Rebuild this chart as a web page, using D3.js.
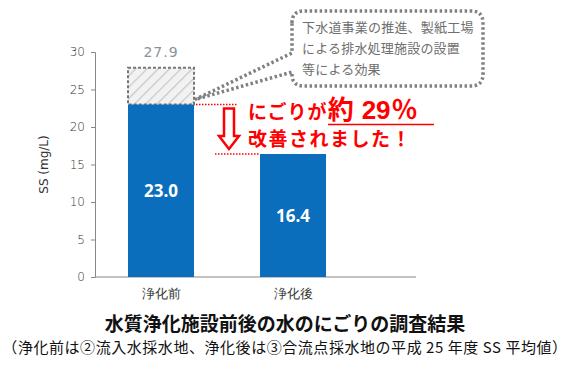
<!DOCTYPE html>
<html>
<head>
<meta charset="utf-8">
<script src="https://cdn.jsdelivr.net/npm/d3@7"></script>
<style>
  body { margin: 0; background: #fff; }
  svg { display: block; font-family: "Noto Sans CJK JP", "Noto Sans", sans-serif; }
</style>
</head>
<body>
<svg id="chart" width="571" height="366"></svg>
<script>
// data
var categories = ['浄化前', '浄化後'];
var values = [23.0, 16.4];
var before = 27.9;               // 対策前の推定値 (hatched part)
var yTicks = [0, 5, 10, 15, 20, 25, 30];
var calloutLines = ['下水道事業の推進、製紙工場', 'による排水処理施設の設置', '等による効果'];
var title = '水質浄化施設前後の水のにごりの調査結果';
var subtitle = '（浄化前は②流入水採水地、浄化後は③合流点採水地の平成 25 年度 SS 平均値）';

var svg = d3.select('#chart');
var margin = {left: 95, right: 212, top: 52, bottom: 89};
var width = 571 - margin.left - margin.right,
    height = 366 - margin.top - margin.bottom;

var blue = '#0a6ebd';
var red = '#ff0000';

var x = d3.scaleBand().domain(categories).range([0, width]).paddingInner(0.5).paddingOuter(0.25);
var y = d3.scaleLinear().domain([0, 30]).range([height, 0]);

var defs = svg.append('defs');
var pat = defs.append('pattern')
    .attr('id', 'hatch')
    .attr('patternUnits', 'userSpaceOnUse')
    .attr('width', 8).attr('height', 8)
    .attr('patternTransform', 'rotate(45)');
pat.append('rect').attr('width', 8).attr('height', 8).attr('fill', '#f2f2f2');
pat.append('line').attr('x1', 0).attr('y1', 0).attr('x2', 0).attr('y2', 8)
    .attr('stroke', '#c8c8c8').attr('stroke-width', 2.5);

var g = svg.append('g').attr('transform', 'translate(' + margin.left + ',' + margin.top + ')');

// y axis
var yAxis = g.append('g')
    .call(d3.axisLeft(y).tickValues(yTicks).tickSize(4).tickPadding(6));
yAxis.select('.domain').attr('stroke', '#888');
yAxis.selectAll('.tick line').attr('stroke', '#888');
yAxis.selectAll('.tick text').attr('fill', '#333').style('font-size', '12px')
    .style('font-family', '"DejaVu Sans", sans-serif').attr('font-weight', 300);

// x axis
var xAxis = g.append('g')
    .attr('transform', 'translate(0,' + height + ')')
    .call(d3.axisBottom(x).tickSize(0).tickPadding(12));
xAxis.select('.domain').attr('stroke', '#888').attr('d', 'M0,0H' + (width + 57));
xAxis.selectAll('.tick text').attr('fill', '#333').style('font-size', '13px');

// y axis title
svg.append('text')
    .attr('transform', 'translate(44,' + (margin.top + y(15)) + ') rotate(-90)')
    .attr('text-anchor', 'middle')
    .attr('dominant-baseline', 'middle')
    .style('font-size', '12px').attr('fill', '#333')
    .style('font-family', '"DejaVu Sans", sans-serif')
    .text('SS (mg/L)');

// hatched portion of the first bar
var bw = x.bandwidth();
g.append('rect')
    .attr('x', x(categories[0])).attr('y', y(before))
    .attr('width', bw).attr('height', y(values[0]) - y(before))
    .attr('fill', 'url(#hatch)')
    .attr('stroke', '#777').attr('stroke-width', 2).attr('stroke-dasharray', '3,2');

// bars
g.selectAll('.bar')
    .data(values)
    .enter().append('rect')
    .attr('class', 'bar')
    .attr('x', function(d, i) { return x(categories[i]); })
    .attr('y', function(d) { return y(d); })
    .attr('width', bw)
    .attr('height', function(d) { return height - y(d); })
    .attr('fill', blue);

// value labels inside bars
g.selectAll('.val')
    .data(values)
    .enter().append('text')
    .attr('x', function(d, i) { return x(categories[i]) + bw / 2; })
    .attr('y', function(d) { return y(d / 2) + 6; })
    .attr('text-anchor', 'middle')
    .attr('fill', '#fff')
    .attr('font-weight', 'bold')
    .style('font-size', '17px')
    .style('font-family', '"Open Sans", sans-serif')
    .text(function(d) { return d.toFixed(1); });

g.append('text')
    .attr('x', x(categories[0]) + bw / 2).attr('y', y(before) - 11)
    .attr('text-anchor', 'middle')
    .attr('fill', '#8a929c')
    .style('font-size', '14px')
    .style('font-family', '"DejaVu Sans", sans-serif')
    .attr('letter-spacing', '1px')
    .text(before.toFixed(1));

// callout bubble
var bx = x(categories[0]) + bw + margin.left;
var tipY = margin.top + y(values[0]) - 5;
var callout = svg.append('g');
var L = 292, R = 483, T = 11, B = 86, r = 12;
var bubble = 'M' + L + ',' + (T + r) +
    'Q' + L + ',' + T + ' ' + (L + r) + ',' + T +
    'H' + (R - r) + 'Q' + R + ',' + T + ' ' + R + ',' + (T + r) +
    'V' + (B - r) + 'Q' + R + ',' + B + ' ' + (R - r) + ',' + B +
    'H' + (L + r) + 'Q' + L + ',' + B + ' ' + L + ',' + (B - r) +
    'V72L' + (bx + 1) + ',' + tipY + 'L' + L + ',53Z';
callout.append('path')
    .attr('d', bubble)
    .attr('fill', '#fff')
    .attr('stroke', '#808080').attr('stroke-width', 3.5)
    .attr('stroke-dasharray', '2.5,2.5');
callout.selectAll('text')
    .data(calloutLines)
    .enter().append('text')
    .attr('x', 302)
    .attr('y', function(d, i) { return 32 + i * 21; })
    .attr('fill', '#6e6e6e')
    .style('font-size', '13px')
    .attr('letter-spacing', '0.2px')
    .text(function(d) { return d; });

// red dotted guide lines
var y1 = margin.top + y(values[0]), y2 = margin.top + y(values[1]);
svg.append('line').attr('x1', bx + 2).attr('x2', 237).attr('y1', y1).attr('y2', y1)
    .attr('stroke', red).attr('stroke-width', 1.5).attr('stroke-dasharray', '1.5,1.5');
svg.append('line').attr('x1', 215).attr('x2', margin.left + x(categories[1]) - 1).attr('y1', y2).attr('y2', y2)
    .attr('stroke', red).attr('stroke-width', 1.5).attr('stroke-dasharray', '1.5,1.5');

// hollow red arrow
var ax = 229, aTop = y1 + 4, aBot = y2 - 5, head = 13;
svg.append('path')
    .attr('d', 'M' + (ax - 5) + ',' + aTop + 'H' + (ax + 5) + 'V' + (aBot - head) +
      'H' + (ax + 10) + 'L' + ax + ',' + aBot + 'L' + (ax - 10) + ',' + (aBot - head) +
      'H' + (ax - 5) + 'Z')
    .attr('fill', '#fff').attr('stroke', red).attr('stroke-width', 2.5)
    .attr('stroke-linejoin', 'miter');

// red message
var msg = svg.append('text').attr('x', 248).attr('y', 119)
    .attr('fill', red).attr('font-weight', 'bold');
msg.append('tspan').style('font-size', '19px').attr('letter-spacing', '1px').text('にごりが');
msg.append('tspan').style('font-size', '26px').text('約');
msg.append('tspan').style('font-size', '26px').attr('dx', 8)
    .style('font-family', '"Liberation Sans", sans-serif').text('29');
msg.append('tspan').style('font-size', '26px').attr('dx', 1).text('％');
svg.append('line').attr('x1', 328).attr('x2', 434).attr('y1', 124.5).attr('y2', 124.5)
    .attr('stroke', red).attr('stroke-width', 1.5);
svg.append('text').attr('x', 248).attr('y', 146)
    .attr('fill', red).attr('font-weight', 'bold')
    .style('font-size', '19px').attr('letter-spacing', '1.5px')
    .text('改善されました！');

// titles
svg.append('text').attr('x', 285).attr('y', 331)
    .attr('text-anchor', 'middle').attr('font-weight', 'bold')
    .style('font-size', '19px').attr('fill', '#111')
    .text(title);
svg.append('text').attr('x', 285).attr('y', 353)
    .attr('text-anchor', 'middle')
    .style('font-size', '15px').attr('fill', '#111')
    .attr('letter-spacing', '0.55px')
    .text(subtitle);
</script>
</body>
</html>
